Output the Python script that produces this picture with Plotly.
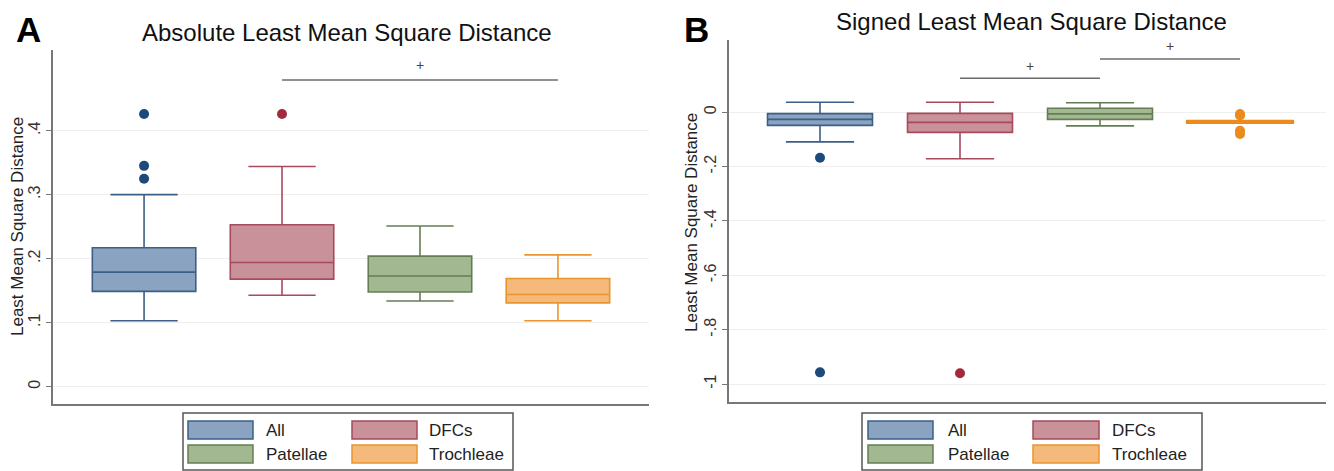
import plotly.graph_objects as go

# ---------------- data ----------------
categories = ["All", "DFCs", "Patellae", "Trochleae"]

# Panel A: absolute least mean square distance
abs_lower = [0.103, 0.143, 0.134, 0.103]
abs_q1 = [0.149, 0.168, 0.148, 0.131]
abs_median = [0.179, 0.194, 0.173, 0.144]
abs_q3 = [0.217, 0.253, 0.204, 0.169]
abs_upper = [0.300, 0.344, 0.251, 0.206]
abs_outliers = [[0.325, 0.345, 0.426], [0.426], [], []]

# Panel B: signed least mean square distance
sgn_lower = [-0.109, -0.171, -0.050, -0.037]
sgn_q1 = [-0.048, -0.074, -0.026, -0.037]
sgn_median = [-0.026, -0.037, -0.006, -0.035]
sgn_q3 = [-0.005, -0.004, 0.015, -0.033]
sgn_upper = [0.037, 0.037, 0.035, -0.033]
sgn_outliers = [[-0.167, -0.957], [-0.960], [], [-0.006, -0.012, -0.068, -0.080]]

abs_ticks = [0, 0.1, 0.2, 0.3, 0.4]
abs_ticktext = ["0", ".1", ".2", ".3", ".4"]
sgn_ticks = [-1, -0.8, -0.6, -0.4, -0.2, 0]
sgn_ticktext = ["-1", "-.8", "-.6", "-.4", "-.2", "0"]

# significance bars: (from category, to category, y level, label y)
abs_sig = [("DFCs", "Trochleae", 0.479, 0.503)]
sgn_sig = [("DFCs", "Patellae", 0.125, 0.170), ("Patellae", "Trochleae", 0.196, 0.244)]

# ---------------- style ----------------
fills = ["#8aa3c1", "#c9919a", "#a2b890", "#f5b97c"]
lines = ["#3d5f86", "#a84a5e", "#647d55", "#e8952d"]
dots = ["#1d4a7a", "#a32a3d", "#5d7a4e", "#eb8a1d"]
FONT = "Liberation Sans, Arial, Helvetica, sans-serif"

# the page body has an 8px margin: size the figure to fit the window exactly
OFF = 8
W, H = 1334 - OFF, 471 - OFF


def px(x):
    return (x - OFF) / W


def py(y):
    return 1 - (y - OFF) / H


fig = go.Figure()


def add_panel(xa, ya, lower, q1, med, q3, upper, outl, thick_last=False):
    for i, c in enumerate(categories):
        special = thick_last and i == 3
        fig.add_trace(go.Box(
            x=[c], q1=[q1[i]], median=[med[i]], q3=[q3[i]],
            lowerfence=[lower[i]], upperfence=[upper[i]],
            fillcolor=dots[3] if special else fills[i],
            line=dict(color=dots[3] if special else lines[i], width=3.2 if special else 1.6),
            width=0.75, whiskerwidth=0.65, boxpoints=False,
            xaxis=xa, yaxis=ya, showlegend=False, name=c,
        ))
        if outl[i]:
            fig.add_trace(go.Scatter(
                x=[c] * len(outl[i]), y=outl[i], mode="markers",
                marker=dict(color=dots[i], size=10),
                xaxis=xa, yaxis=ya, showlegend=False, name=c,
            ))


add_panel("x", "y", abs_lower, abs_q1, abs_median, abs_q3, abs_upper, abs_outliers)
add_panel("x2", "y2", sgn_lower, sgn_q1, sgn_median, sgn_q3, sgn_upper, sgn_outliers, thick_last=True)

shapes = []
annotations = []

for (a, b, yl, ylab), xr, yr in [(s, "x", "y") for s in abs_sig] + [(s, "x2", "y2") for s in sgn_sig]:
    i0, i1 = categories.index(a), categories.index(b)
    shapes.append(dict(type="line", xref=xr, yref=yr, x0=i0, x1=i1, y0=yl, y1=yl,
                       line=dict(color="#6b6b6b", width=1.5)))
    annotations.append(dict(xref=xr, yref=yr, x=(i0 + i1) / 2, y=ylab, text="+",
                            xanchor="center", yanchor="middle",
                            showarrow=False, font=dict(family=FONT, size=14, color="#444")))


def centered(x, y, text, size, color="#111", angle=0):
    return dict(xref="paper", yref="paper", x=px(x), y=py(y), text=text, showarrow=False,
                xanchor="center", yanchor="middle", textangle=angle,
                font=dict(family=FONT, size=size, color=color))


annotations += [
    centered(28, 29, "<b>A</b>", 35, "black"),
    centered(696, 29, "<b>B</b>", 35, "black"),
    centered(347, 33, "Absolute Least Mean Square Distance", 24),
    centered(1031, 22, "Signed Least Mean Square Distance", 24),
    centered(17, 227, "Least Mean Square Distance", 17, "#222", -90),
    centered(691, 222, "Least Mean Square Distance", 17, "#222", -90),
]

# legends (drawn as boxes to match the wide swatches)
legend_specs = [
    dict(box=(183, 513), col_sw=[(188, 253), (352, 417)], col_tx=[264, 427]),
    dict(box=(862, 1202), col_sw=[(868, 933), (1033, 1099)], col_tx=[946, 1110]),
]
rows = [(421, 439), (445, 463)]
order = [(0, 0), (0, 1), (1, 0), (1, 1)]  # (row, col) for each category
for spec in legend_specs:
    shapes.append(dict(type="rect", xref="paper", yref="paper",
                       x0=px(spec["box"][0]), x1=px(spec["box"][1]), y0=py(470), y1=py(413),
                       line=dict(color="#555", width=1.5), fillcolor="white", layer="below"))
    for i, c in enumerate(categories):
        r, col = order[i]
        sx0, sx1 = spec["col_sw"][col]
        ry0, ry1 = rows[r]
        shapes.append(dict(type="rect", xref="paper", yref="paper",
                           x0=px(sx0), x1=px(sx1), y0=py(ry1), y1=py(ry0),
                           line=dict(color=lines[i], width=1.5), fillcolor=fills[i]))
        annotations.append(dict(xref="paper", yref="paper", x=px(spec["col_tx"][col]),
                                y=py((ry0 + ry1) / 2), xanchor="left", yanchor="middle",
                                text=c, showarrow=False,
                                font=dict(family=FONT, size=17, color="#222")))

axis_common = dict(showline=True, linecolor="#777", linewidth=1.5, zeroline=False, automargin=False)

fig.update_layout(
    width=W, height=H,
    margin=dict(l=0, r=0, t=0, b=0),
    paper_bgcolor="white", plot_bgcolor="white",
    boxmode="overlay",
    font=dict(family=FONT),
    xaxis=dict(domain=[px(53), px(649)], type="category", categoryorder="array",
               categoryarray=categories, range=[-0.66, 3.66], showticklabels=False,
               ticks="", showgrid=False, anchor="y", **axis_common),
    yaxis=dict(domain=[py(404), py(50)], range=[-0.027, 0.526], tickvals=abs_ticks,
               ticktext=abs_ticktext, tickangle=-90, ticks="outside", ticklen=5,
               tickcolor="#777", tickfont=dict(size=16, color="#333"),
               showgrid=True, gridcolor="#efefef", gridwidth=1, anchor="x", **axis_common),
    xaxis2=dict(domain=[px(729), px(1331)], type="category", categoryorder="array",
                categoryarray=categories, range=[-0.65, 3.65], showticklabels=False,
                ticks="", showgrid=False, anchor="y2", **axis_common),
    yaxis2=dict(domain=[py(401.7), py(40)], range=[-1.065, 0.266], tickvals=sgn_ticks,
                ticktext=sgn_ticktext, tickangle=-90, ticks="outside", ticklen=5,
                tickcolor="#777", tickfont=dict(size=16, color="#333"),
                showgrid=True, gridcolor="#efefef", gridwidth=1, anchor="x2", **axis_common),
    shapes=shapes,
    annotations=annotations,
)

fig.write_html("out.html")
